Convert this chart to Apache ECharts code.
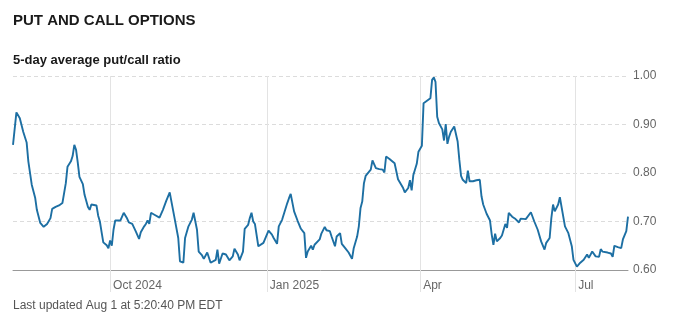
<!DOCTYPE html>
<html><head><meta charset="utf-8">
<script src="https://cdn.jsdelivr.net/npm/echarts@6/dist/echarts.min.js"></script>
<style>html,body{margin:0;padding:0;background:#fff}#c{width:675px;height:326px}</style>
</head><body><div id="c"></div><script>
const startDate = '2024-08-05';
const endDate = '2025-08-01';
const tickDates = ['2024-10-01', '2025-01-01', '2025-04-01', '2025-07-01'];
const tickLabels = ['Oct 2024', 'Jan 2025', 'Apr', 'Jul'];
const yMin = 0.6, yMax = 1.0, yStep = 0.1;

// day number counted from startDate, and the 5-day average put/call ratio
const dayIndex = [0,2,3,4,6,8,9,11,13,14,16,18,20,22,23,24,25,27,29,31,32,34,35,36,37,38,39,41,42,44,45,46,49,50,
51,52,53,55,56,57,58,59,60,63,64,65,67,68,70,72,74,75,77,78,79,80,81,83,86,88,90,92,93,95,97,98,100,101,
103,104,105,106,107,108,109,111,112,114,116,117,119,120,121,123,125,126,127,129,130,132,133,135,136,138,139,140,141,142,144,145,147,148,150,152,153,155,
156,158,161,162,163,165,167,169,171,172,173,175,176,177,178,180,181,183,184,186,187,189,190,192,193,195,197,199,200,202,203,204,205,
206,207,208,210,211,213,215,217,218,219,221,224,226,227,229,230,232,233,234,235,237,238,240,241,243,245,246,247,248,249,250,252,253,254,255,256,257,
259,261,262,263,264,266,267,268,270,272,274,275,276,278,280,281,282,283,284,286,287,289,290,291,293,295,296,297,298,301,302,304,306,308,
310,312,313,315,316,317,318,320,321,322,324,326,328,329,331,333,335,337,338,340,342,344,345,346,349,351,352,353,355,357,358,360,361];
const ratio = [0.858,0.925,0.929,0.913,0.885,0.863,0.824,0.776,0.749,0.724,0.697,0.689,0.695,0.707,0.726,0.723,0.730,0.733,0.738,0.779,0.813,0.824,0.835,0.858,0.848,0.822,0.792,0.777,0.755,0.730,0.724,0.735,0.733,0.712,
0.700,0.678,0.657,0.651,0.645,0.661,0.650,0.683,0.702,0.702,0.705,0.718,0.706,0.698,0.695,0.680,0.664,0.678,0.690,0.695,0.702,0.695,0.718,0.714,0.708,0.724,0.743,0.760,0.741,0.704,0.666,0.618,0.615,0.666,
0.690,0.693,0.704,0.718,0.718,0.683,0.638,0.630,0.623,0.636,0.615,0.617,0.621,0.642,0.613,0.634,0.632,0.628,0.620,0.628,0.644,0.632,0.620,0.638,0.685,0.693,0.707,0.718,0.700,0.695,0.649,0.652,0.656,0.652,0.681,0.673,0.666,0.654,
0.690,0.704,0.738,0.748,0.757,0.721,0.702,0.685,0.676,0.625,0.638,0.650,0.642,0.652,0.649,0.663,0.675,0.689,0.682,0.680,0.669,0.649,0.669,0.676,0.654,0.645,0.636,0.623,0.645,0.669,0.690,0.728,0.741,
0.779,0.794,0.798,0.807,0.826,0.810,0.808,0.807,0.801,0.834,0.829,0.820,0.787,0.783,0.769,0.760,0.769,0.785,0.764,0.796,0.819,0.844,0.856,0.944,0.949,0.954,0.992,0.997,0.988,0.916,0.903,0.890,0.867,0.901,0.860,0.875,0.885,
0.896,0.865,0.827,0.794,0.786,0.779,0.805,0.783,0.783,0.785,0.786,0.752,0.735,0.716,0.702,0.673,0.652,0.675,0.659,0.666,0.671,0.695,0.687,0.718,0.710,0.705,0.709,0.698,0.706,0.705,0.708,0.719,0.700,0.683,
0.659,0.642,0.656,0.666,0.707,0.735,0.721,0.735,0.750,0.748,0.690,0.676,0.649,0.621,0.607,0.615,0.621,0.632,0.625,0.638,0.628,0.627,0.643,0.638,0.636,0.634,0.627,0.650,0.647,0.645,0.663,0.680,0.710];

const cats = [];
{
  let t = Date.parse(startDate + 'T00:00:00Z');
  const end = Date.parse(endDate + 'T00:00:00Z');
  while (t <= end) { cats.push(new Date(t).toISOString().slice(0, 10)); t += 86400000; }
}
const isTick = (i, v) => tickDates.indexOf(v) >= 0;
const font = 'Liberation Sans, Arial, Helvetica, sans-serif';

const chart = echarts.init(document.getElementById('c'), null, {renderer: 'canvas'});
chart.setOption({
  animation: false,
  backgroundColor: '#fff',
  title: [
    {text: 'PUT AND CALL OPTIONS', left: 13, top: 13, padding: 0,
     textStyle: {fontSize: 15, fontWeight: 'bold', color: '#1a1a1a', fontFamily: font}},
    {text: '5-day average put/call ratio', left: 13, top: 54, padding: 0,
     textStyle: {fontSize: 13, fontWeight: 'bold', color: '#1a1a1a', fontFamily: font}},
    {text: 'Last updated Aug 1 at 5:20:40 PM EDT', left: 13, top: 300, padding: 0,
     textStyle: {fontSize: 12, fontWeight: 'normal', color: '#555', fontFamily: font}}
  ],
  grid: {left: 13, right: 47, top: 76, bottom: 56},
  xAxis: {
    type: 'category', data: cats, boundaryGap: false,
    axisLine: {show: true, lineStyle: {color: '#999', width: 1}},
    axisTick: {show: true, interval: isTick, length: 22, lineStyle: {color: '#e3e3e3'}},
    splitLine: {show: true, interval: isTick, lineStyle: {color: '#e3e3e3', width: 1}},
    axisLabel: {interval: isTick, align: 'left', margin: 10, padding: [0, 0, 0, 3],
      color: '#666', fontSize: 12, fontFamily: font,
      formatter: v => tickLabels[tickDates.indexOf(v)] || ''}
  },
  yAxis: {
    type: 'value', position: 'right', min: yMin, max: yMax, interval: yStep,
    axisLine: {show: false}, axisTick: {show: false},
    splitLine: {show: true, lineStyle: {color: '#dcdcdc', type: [4, 3], width: 1}},
    axisLabel: {margin: 5, color: '#666', fontSize: 12, fontFamily: font, formatter: v => v.toFixed(2)}
  },
  series: [{
    type: 'line', data: dayIndex.map((d, i) => [d, ratio[i]]),
    showSymbol: false, symbol: 'none',
    lineStyle: {color: '#1d6fa3', width: 1.9}, z: 5
  }]
});
</script></body></html>
